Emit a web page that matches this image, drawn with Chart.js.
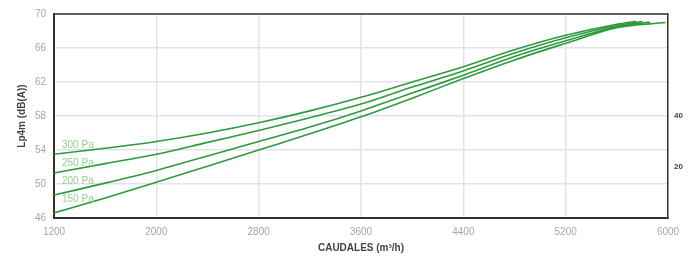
<!DOCTYPE html>
<html lang="es">
<head>
    <meta charset="UTF-8">
    <script src="https://cdn.jsdelivr.net/npm/chart.js"></script>
    <title>Lp4m</title>
    <style>
        html, body { margin: 0; padding: 0; background: #fff; }
        .wrap { width: 696px; height: 260px; }
    </style>
</head>
<body>
    <div class="wrap"><canvas id="lpChart" width="696" height="260"></canvas></div>
    <script>
        const caudales = [1200, 1600, 2000, 2400, 2800, 3200, 3600, 4000, 4400, 4800, 5200, 5600];
        const presiones = ['300 Pa', '250 Pa', '200 Pa', '150 Pa'];
        const lp300 = [53.5, 54.2, 55.0, 56.0, 57.2, 58.6, 60.2, 62.0, 63.8, 65.8, 67.5, 68.8];
        const lp250 = [51.3, 52.4, 53.5, 54.9, 56.3, 57.8, 59.4, 61.4, 63.3, 65.4, 67.2, 68.65];
        const lp200 = [48.7, 50.1, 51.6, 53.3, 55.0, 56.7, 58.6, 60.7, 62.8, 65.0, 66.85, 68.5];
        const lp150 = [46.6, 48.35, 50.2, 52.1, 54.0, 55.9, 57.9, 60.1, 62.4, 64.6, 66.55, 68.4];
        const finCaudal = [5750, 5800, 5860, 5980];
        const finLp = [69.15, 69.1, 69.05, 69.0];
        const etiquetaLp = [54.6, 52.5, 50.3, 48.15];
        const xTicks = [1200, 2000, 2800, 3600, 4400, 5200, 6000];
        const yTicks = [46, 50, 54, 58, 62, 66, 70];
        const y2Ticks = [20, 40];

        const series = [lp300, lp250, lp200, lp150];

        const datasets = series.map(function (vals, i) {
            const pts = caudales.map(function (c, j) { return { x: c, y: vals[j] }; });
            pts.push({ x: finCaudal[i], y: finLp[i] });
            return {
                label: presiones[i],
                data: pts,
                borderColor: '#2e9a3c',
                borderWidth: 1.6,
                pointRadius: 0,
                fill: false,
                cubicInterpolationMode: 'monotone'
            };
        });

        // etiquetas de presion y borde superior
        const extras = {
            id: 'extras',
            afterDatasetsDraw(chart) {
                const ctx = chart.ctx;
                const a = chart.chartArea;
                const y = chart.scales.y;
                ctx.save();
                ctx.font = '10px "Liberation Sans", Arial, sans-serif';
                ctx.fillStyle = '#92d095';
                ctx.textBaseline = 'middle';
                presiones.forEach(function (p, i) {
                    ctx.fillText(p, a.left + 8, y.getPixelForValue(etiquetaLp[i]));
                });
                ctx.strokeStyle = '#333';
                ctx.lineWidth = 1.5;
                ctx.beginPath();
                ctx.moveTo(a.left, a.top);
                ctx.lineTo(a.right, a.top);
                ctx.stroke();
                ctx.restore();
            }
        };

        const fuente = '"Liberation Sans", Arial, sans-serif';

        const ctxLp = document.getElementById('lpChart').getContext('2d');
        const lpChart = new Chart(ctxLp, {
            type: 'line',
            data: { datasets: datasets },
            plugins: [extras],
            options: {
                responsive: false,
                animation: false,
                layout: { padding: { top: 9, left: 0, right: 0, bottom: 0 } },
                plugins: { legend: { display: false }, tooltip: { enabled: false } },
                scales: {
                    x: {
                        type: 'linear',
                        min: 1200,
                        max: 6000,
                        afterBuildTicks: function (s) { s.ticks = xTicks.map(v => ({ value: v })); },
                        afterFit: function (s) { s.height = 42; },
                        ticks: {
                            color: '#a6a6a6',
                            padding: 8,
                            maxRotation: 0,
                            callback: v => String(v),
                            font: { family: fuente, size: 10 }
                        },
                        grid: { color: '#e4e1ee', lineWidth: 1.5, drawTicks: false },
                        border: { color: '#333', width: 2 },
                        title: {
                            display: true,
                            text: 'CAUDALES (m³/h)',
                            color: '#444',
                            padding: { top: 0, bottom: 6 },
                            font: { family: fuente, size: 10, weight: 'bold' }
                        }
                    },
                    y: {
                        min: 46,
                        max: 70,
                        afterBuildTicks: function (s) { s.ticks = yTicks.map(v => ({ value: v })); },
                        afterFit: function (s) { s.width = 54; },
                        ticks: {
                            color: '#a6a6a6',
                            padding: 8,
                            callback: v => String(v),
                            font: { family: fuente, size: 10 }
                        },
                        grid: { color: '#e4e1ee', lineWidth: 1.5, drawTicks: false },
                        border: { color: '#333', width: 2 },
                        title: {
                            display: true,
                            text: 'Lp4m (dB(A))',
                            color: '#444',
                            padding: { top: 16, bottom: 0 },
                            font: { family: fuente, size: 10, weight: 'bold' }
                        }
                    },
                    y2: {
                        position: 'right',
                        min: 0,
                        max: 80,
                        afterBuildTicks: function (s) { s.ticks = y2Ticks.map(v => ({ value: v })); },
                        afterFit: function (s) { s.width = 28; },
                        ticks: {
                            color: '#444',
                            padding: 6,
                            font: { family: fuente, size: 8, weight: 'bold' }
                        },
                        grid: { display: false, drawTicks: false },
                        border: { color: '#333', width: 1.5 }
                    }
                }
            }
        });
    </script>
</body>
</html>
